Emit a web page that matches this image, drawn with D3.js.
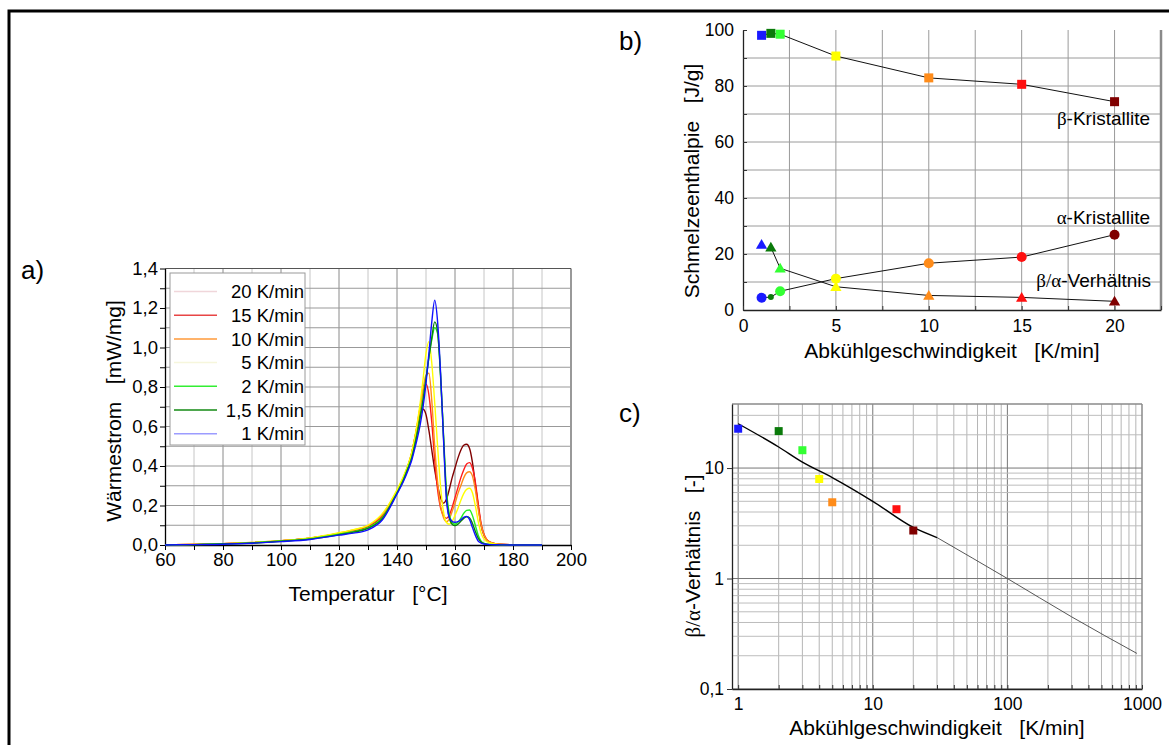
<!DOCTYPE html>
<html><head><meta charset="utf-8">
<script src="https://cdn.jsdelivr.net/npm/d3@7"></script>
<style>
body{margin:0;background:#fff}
svg{display:block}
text{font-family:"Liberation Sans",Arial,sans-serif;fill:#000}
.gr{font-family:"Liberation Serif","DejaVu Serif",serif}
</style>
</head><body>
<svg id="c" width="1169" height="745"></svg>
<script>
// ---------- Panel a: DSC curves ----------
const dscTemp = [60,70,80,90,100,110,120,125,130,135,140,142,144,145,146,147,148,149,150,151,152,153,154,155,156,157,158,159,160,161,162,163,164,165,166,167,168,169,170,172,175,180,190];
const dsc20 = [0,0.003,0.007,0.012,0.021,0.034,0.058,0.073,0.094,0.148,0.27,0.33,0.41,0.46,0.53,0.6,0.66,0.687,0.66,0.58,0.48,0.38,0.3,0.24,0.212,0.23,0.28,0.34,0.39,0.44,0.48,0.505,0.51,0.49,0.42,0.31,0.2,0.1,0.05,0.015,0.004,0.001,0];
const dsc15 = [0,0.003,0.007,0.012,0.021,0.034,0.058,0.074,0.095,0.15,0.27,0.33,0.41,0.46,0.53,0.61,0.7,0.78,0.815,0.76,0.62,0.43,0.28,0.19,0.15,0.135,0.15,0.19,0.24,0.29,0.34,0.38,0.41,0.417,0.39,0.32,0.21,0.11,0.055,0.015,0.004,0.001,0];
const dsc10 = [0,0.003,0.007,0.013,0.022,0.035,0.06,0.076,0.098,0.155,0.275,0.335,0.41,0.46,0.53,0.61,0.7,0.79,0.86,0.87,0.73,0.5,0.32,0.2,0.14,0.118,0.13,0.17,0.21,0.26,0.3,0.34,0.365,0.371,0.35,0.28,0.18,0.1,0.05,0.015,0.004,0.001,0];
const dsc5 = [0,0.003,0.007,0.013,0.022,0.036,0.062,0.078,0.1,0.16,0.28,0.34,0.415,0.465,0.535,0.62,0.72,0.84,0.97,1.03,0.92,0.72,0.5,0.3,0.17,0.115,0.105,0.12,0.15,0.185,0.225,0.26,0.282,0.287,0.265,0.2,0.12,0.06,0.03,0.01,0.003,0.001,0];
const dsc2 = [0,0.002,0.006,0.011,0.02,0.032,0.055,0.068,0.088,0.14,0.265,0.325,0.4,0.44,0.5,0.57,0.65,0.74,0.84,0.95,1.04,1.1,1.07,0.87,0.57,0.29,0.16,0.115,0.105,0.115,0.135,0.16,0.175,0.177,0.15,0.1,0.05,0.02,0.008,0.003,0.001,0,0];
const dsc1p5 = [0,0.002,0.005,0.01,0.019,0.03,0.052,0.065,0.084,0.135,0.262,0.32,0.395,0.435,0.495,0.565,0.645,0.735,0.84,0.95,1.05,1.13,1.08,0.86,0.56,0.26,0.14,0.105,0.098,0.105,0.12,0.135,0.143,0.138,0.11,0.07,0.035,0.015,0.007,0.002,0.001,0,0];
const dsc1 = [0,0.002,0.004,0.009,0.017,0.028,0.05,0.06,0.077,0.128,0.258,0.315,0.385,0.425,0.48,0.54,0.61,0.7,0.82,0.97,1.13,1.24,1.13,0.88,0.55,0.24,0.14,0.12,0.115,0.118,0.128,0.14,0.145,0.13,0.09,0.05,0.02,0.01,0.005,0.002,0.001,0,0];
const dscSeries = [dsc20, dsc15, dsc10, dsc5, dsc2, dsc1p5, dsc1];
const dscLabels = ["20 K/min","15 K/min","10 K/min","5 K/min","2 K/min","1,5 K/min","1 K/min"];
const dscColors = ["#800000","#ff1a1a","#ff8c1a","#ffff00","#22ee22","#0a800a","#1010ff"];
const legendColors = ["#f0d6da","#e84545","#ff9a3a","#f6f6dc","#33ee33","#138a13","#9c9cff"];

// ---------- Panel b: enthalpies ----------
const rates = [1,1.5,2,5,10,15,20];
const betaH = [98.1,98.8,98.5,90.7,82.9,80.6,74.4];
const alphaH = [4.4,4.6,6.7,11.2,16.7,18.9,26.9];
const ratioH = [23.4,22.4,14.9,8.3,5.2,4.5,3.1];
const rateColors = ["#1a1aff","#0a7a0a","#33ff33","#ffff00","#ff8c1a","#ff1010","#800000"];

// ---------- Panel c: ratio (log-log) ----------
const ratioRates = [1,2,3,4,5,15,20];
const ratioVals = [22.7,21.6,14.5,7.96,4.9,4.24,2.72];
const fitRates = [1,2,3,5,10,20,30,100,300,916];
const fitRatio = [25.2,15.5,11.3,8.2,5.0,2.9,2.35,1.0,0.45,0.21];

const svg = d3.select("#c");
const comma = d => String(d).replace(".", ",");

// outer frame (top and left)
svg.append("path").attr("d","M9,746V11H1169").attr("fill","none").attr("stroke","#000").attr("stroke-width",3);

// ================= Panel a =================
const xA = d3.scaleLinear().domain([60,200]).range([165,571]);
const yA = d3.scaleLinear().domain([0,1.4]).range([545,268.5]);
const gA = svg.append("g");
xA.ticks(14).forEach(t => {
  if (t === 60) return;
  gA.append("line").attr("x1",xA(t)).attr("x2",xA(t)).attr("y1",yA(0)).attr("y2",yA(1.4))
    .attr("stroke", t===200 ? "#777" : (t%20===0 ? "#8a8a8a" : "#c6c6c6")).attr("stroke-width", t===200?1.5:1);
});
yA.ticks(14).forEach(t => {
  if (t === 0) return;
  gA.append("line").attr("x1",xA(60)).attr("x2",xA(200)).attr("y1",yA(t)).attr("y2",yA(t))
    .attr("stroke", Math.abs(t-1.4)<1e-6 ? "#555" : "#999").attr("stroke-width",1);
});
// axes
const axA_y = d3.axisLeft(yA).tickValues(yA.ticks(14)).tickSize(5).tickSizeOuter(0)
  .tickFormat(d => Math.round(d*10)%2===0 ? d3.format(".1f")(d).replace(".",",") : "");
const axA_x = d3.axisBottom(xA).tickValues(xA.ticks(14)).tickSize(5).tickSizeOuter(0)
  .tickFormat(d => d%20===0 ? d : "");
gA.append("g").attr("transform",`translate(${xA(60)},0)`).call(axA_y)
  .call(g=>g.selectAll("text").attr("font-size",18.5).attr("x",-7).attr("font-family","Liberation Sans"));
gA.append("g").attr("transform",`translate(0,${yA(0)})`).call(axA_x)
  .call(g=>g.selectAll("text").attr("font-size",18.5).attr("y",8).attr("font-family","Liberation Sans"));
gA.selectAll(".domain").attr("stroke","#000").attr("stroke-width",1.3);
gA.selectAll(".tick line").attr("stroke","#000");

// curves
const lineA = d3.line().x((d,i)=>xA(dscTemp[i])).y(d=>yA(d)).curve(d3.curveMonotoneX);
dscSeries.forEach((s,k) => {
  gA.append("path").attr("d", lineA(s)).attr("fill","none").attr("stroke",dscColors[k]).attr("stroke-width",1.4);
});
// legend
const lg = gA.append("g");
lg.append("rect").attr("x",170).attr("y",273).attr("width",135).attr("height",172).attr("fill","#fff").attr("stroke","#9a9a9a");
dscLabels.forEach((lab,i) => {
  const y = 291.5 + i*23.7;
  lg.append("line").attr("x1",174).attr("x2",217).attr("y1",y).attr("y2",y).attr("stroke",legendColors[i]).attr("stroke-width",1.5);
  lg.append("text").attr("x",304).attr("y",y).attr("dy","0.36em").attr("text-anchor","end").attr("font-size",18.5).text(lab);
});
// titles
gA.append("text").attr("x",368).attr("y",601).attr("text-anchor","middle").attr("font-size",21)
  .style("white-space","pre").text("Temperatur   [°C]");
gA.append("text").attr("transform","translate(113,411) rotate(-90)").attr("dy","0.36em").attr("text-anchor","middle").attr("font-size",21)
  .style("white-space","pre").text("Wärmestrom   [mW/mg]");
svg.append("text").attr("x",21).attr("y",279).attr("font-size",26).text("a)");

// ================= Panel b =================
const xB = d3.scaleLinear().domain([0,22.5]).range([743,1161]);
const yB = d3.scaleLinear().domain([0,100]).range([310,30]);
const gB = svg.append("g");
d3.range(2.5,22.5,2.5).forEach(t => {
  gB.append("line").attr("x1",xB(t)).attr("x2",xB(t)).attr("y1",yB(0)).attr("y2",yB(100)).attr("stroke","#9a9a9a");
});
d3.range(10,100,10).forEach(t => {
  gB.append("line").attr("x1",xB(0)).attr("x2",xB(22.5)).attr("y1",yB(t)).attr("y2",yB(t)).attr("stroke","#9a9a9a");
});
gB.append("line").attr("x1",xB(22.5)).attr("x2",xB(22.5)).attr("y1",yB(0)).attr("y2",yB(100)).attr("stroke","#8a8a8a").attr("stroke-width",2.5);
const axB_y = d3.axisLeft(yB).tickValues(d3.range(0,101,10)).tickSize(-4).tickSizeOuter(0)
  .tickFormat(d => d%20===0 ? d : "");
const axB_x = d3.axisBottom(xB).tickValues(d3.range(0,22.6,2.5)).tickSize(-4).tickSizeOuter(0)
  .tickFormat(d => d%5===0 ? d : "");
gB.append("g").attr("transform",`translate(${xB(0)},0)`).call(axB_y)
  .call(g=>g.selectAll("text").attr("font-size",17.5).attr("x",-9));
gB.append("g").attr("transform",`translate(0,${yB(0)})`).call(axB_x)
  .call(g=>g.selectAll("text").attr("font-size",17.5).attr("y",10));
gB.selectAll(".domain").attr("stroke","#222").attr("stroke-width",1.3);
gB.selectAll(".tick line").attr("stroke","#333");

const lineB = d3.line().x((d,i)=>xB(rates[i])).y(d=>yB(d));
[betaH, alphaH].forEach(s => gB.append("path").attr("d",lineB(s)).attr("fill","none").attr("stroke","#111").attr("stroke-width",1));
const lineB2 = d3.line().defined((d,i)=>i>0).x((d,i)=>xB(rates[i])).y(d=>yB(d));
gB.append("path").attr("d",lineB2(ratioH)).attr("fill","none").attr("stroke","#111").attr("stroke-width",1);

betaH.forEach((v,i) => {
  gB.append("rect").attr("x",xB(rates[i])-4.5).attr("y",yB(v)-4.5).attr("width",9).attr("height",9).attr("fill",rateColors[i]);
});
alphaH.forEach((v,i) => {
  gB.append("circle").attr("cx",xB(rates[i])).attr("cy",yB(v)).attr("r", i===1?3:5).attr("fill",rateColors[i]);
});
const tri = d3.symbol().type(d3.symbolTriangle).size(55);
ratioH.forEach((v,i) => {
  gB.append("path").attr("d",tri()).attr("transform",`translate(${xB(rates[i])},${yB(v)+1})`).attr("fill",rateColors[i]);
});
// series labels
function greekLabel(g, x, y, parts){
  const t = g.append("text").attr("x",x).attr("y",y).attr("text-anchor","end").attr("font-size",19);
  parts.forEach(p => t.append("tspan").attr("class",p[1]?"gr":null).text(p[0]));
  return t;
}
greekLabel(gB,1150,125,[["β",1],["-Kristallite",0]]);
greekLabel(gB,1150,224,[["α",1],["-Kristallite",0]]);
greekLabel(gB,1151,287,[["β/α",1],["-Verhältnis",0]]);
gB.append("text").attr("x",952).attr("y",358).attr("text-anchor","middle").attr("font-size",21)
  .style("white-space","pre").text("Abkühlgeschwindigkeit   [K/min]");
gB.append("text").attr("transform","translate(691,181) rotate(-90)").attr("dy","0.36em").attr("text-anchor","middle").attr("font-size",21)
  .style("white-space","pre").text("Schmelzeenthalpie   [J/g]");
svg.append("text").attr("x",619).attr("y",50).attr("font-size",26).text("b)");

// ================= Panel c =================
const xC = d3.scaleLog().domain([0.9,1000]).range([732,1142]);
const yC = d3.scaleLog().domain([0.1,38]).range([689,404]);
const gC = svg.append("g");
const xGrid = [];
[1,10,100].forEach(dec => d3.range(1,10).forEach(m => xGrid.push(dec*m)));
xGrid.forEach(t => {
  const major = Math.abs(Math.log10(t) - Math.round(Math.log10(t))) < 1e-9;
  gC.append("line").attr("x1",xC(t)).attr("x2",xC(t)).attr("y1",yC(0.1)).attr("y2",yC(38))
    .attr("stroke", major ? "#777" : "#b5b5b5");
});
const yGrid = [];
[0.1,1,10].forEach(dec => d3.range(1,10).forEach(m => { const v = dec*m; if (v < 38) yGrid.push(v); }));
yGrid.forEach(t => {
  const major = Math.abs(Math.log10(t) - Math.round(Math.log10(t))) < 1e-9;
  gC.append("line").attr("x1",xC(0.9)).attr("x2",xC(1000)).attr("y1",yC(t)).attr("y2",yC(t))
    .attr("stroke", major ? "#777" : "#bdbdbd");
});
gC.append("line").attr("x1",xC(0.9)).attr("x2",xC(1000)).attr("y1",yC(38)).attr("y2",yC(38)).attr("stroke","#8a8a8a").attr("stroke-width",1.5);
gC.append("line").attr("x1",xC(1000)).attr("x2",xC(1000)).attr("y1",yC(0.1)).attr("y2",yC(38)).attr("stroke","#8a8a8a").attr("stroke-width",1.5);
const axC_y = d3.axisLeft(yC).tickValues([0.1,1,10]).tickSize(5).tickSizeOuter(0).tickFormat(d => comma(d));
const axC_x = d3.axisBottom(xC).tickValues(xGrid.concat([1000])).tickSize(-4).tickSizeOuter(0)
  .tickFormat(d => [1,10,100,1000].includes(d) ? d : "");
gC.append("g").attr("transform",`translate(${xC(0.9)},0)`).call(axC_y)
  .call(g=>g.selectAll("text").attr("font-size",17.5).attr("x",-8));
gC.append("g").attr("transform",`translate(0,${yC(0.1)})`).call(axC_x)
  .call(g=>g.selectAll("text").attr("font-size",17.5).attr("y",9));
gC.selectAll(".domain").attr("stroke","#222").attr("stroke-width",1.3);
gC.selectAll(".tick line").attr("stroke","#333");

const lineC = d3.line().x(d=>xC(fitRates[d])).y(d=>yC(fitRatio[d])).curve(d3.curveMonotoneX);
const idx = d3.range(fitRates.length);
gC.append("path").attr("d",lineC(idx.filter(i=>fitRates[i]<=30))).attr("fill","none").attr("stroke","#000").attr("stroke-width",1.4);
gC.append("path").attr("d",lineC(idx.filter(i=>fitRates[i]>=30))).attr("fill","none").attr("stroke","#444").attr("stroke-width",0.9);
ratioVals.forEach((v,i) => {
  gC.append("rect").attr("x",xC(ratioRates[i])-4).attr("y",yC(v)-4).attr("width",8).attr("height",8).attr("fill",rateColors[i]);
});
gC.append("text").attr("x",937).attr("y",735).attr("text-anchor","middle").attr("font-size",21)
  .style("white-space","pre").text("Abkühlgeschwindigkeit   [K/min]");
const yt = gC.append("text").attr("transform","translate(692,556) rotate(-90)").attr("dy","0.36em").attr("text-anchor","middle").attr("font-size",21).style("white-space","pre");
yt.append("tspan").attr("class","gr").text("β/α");
yt.append("tspan").text("-Verhältnis   [-]");
svg.append("text").attr("x",619).attr("y",422).attr("font-size",26).text("c)");
</script>
</body></html>
